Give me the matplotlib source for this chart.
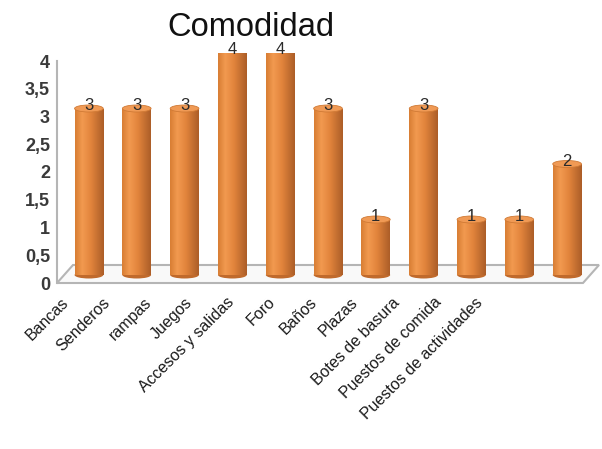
import matplotlib.pyplot as plt
import numpy as np
from matplotlib.patches import Ellipse, Polygon
from matplotlib.transforms import ScaledTranslation
from matplotlib.colors import LinearSegmentedColormap
from matplotlib.ticker import FixedLocator, FuncFormatter

# datos
categories = ['Bancas', 'Senderos', 'rampas', 'Juegos', 'Accesos y salidas', 'Foro',
              'Baños', 'Plazas', 'Botes de basura', 'Puestos de comida',
              'Puestos de actividades']
values = [3, 3, 3, 4, 4, 3, 1, 3, 1, 1, 2]
y_ticks = [0, 0.5, 1, 1.5, 2, 2.5, 3, 3.5, 4]
title = 'Comodidad'

plt.rcParams['font.family'] = ['Liberation Sans', 'DejaVu Sans']

fig = plt.figure(figsize=(6.02, 4.49), dpi=100)
ax = fig.add_axes([57 / 602, 166 / 449, 526 / 602, 222 / 449])
ax.set_xlim(-0.5, 10.5)
ax.set_ylim(0, 4)
for s in ['top', 'right', 'bottom']:
    ax.spines[s].set_visible(False)
ax.spines['left'].set_color('#b5b5b5')
ax.spines['left'].set_linewidth(1.5)

# profundidad "3D": barras a media profundidad, fondo del piso atras
mid = ax.transData + ScaledTranslation(0.08, 0.08, fig.dpi_scale_trans)
px_x = ax.bbox.width / 11
px_y = ax.bbox.height / 4
dx, dy = 16 / px_x, 18 / px_y

floor = Polygon([(-0.5, 0), (10.5, 0), (10.5 + dx, dy), (-0.5 + dx, dy)],
                closed=True, facecolor='#f9f9f9', edgecolor='#b5b5b5',
                linewidth=1.5, clip_on=False, zorder=1)
ax.add_patch(floor)

x = np.arange(len(categories))
width = 0.6
cyl = LinearSegmentedColormap.from_list(
    'cyl', [(0.0, '#d87e34'), (0.25, '#f29a50'), (0.55, '#e2843c'),
            (1.0, '#ac5e28')])
grad = np.linspace(0, 1, 64).reshape(1, -1)
ell_h = 7 / px_y

bars = ax.bar(x, values, width=width, color='#e2843c', zorder=3)
for b, xi, v in zip(bars, x, values):
    b.set_transform(mid)
    bottom = Ellipse((xi, 0), width, ell_h, transform=mid, facecolor='#c06a2c',
                     edgecolor='none', zorder=2)
    ax.add_patch(bottom)
    im = ax.imshow(grad, extent=(xi - width / 2, xi + width / 2, 0, v),
                   aspect='auto', cmap=cyl, transform=mid, zorder=4,
                   interpolation='bilinear')
    im.set_clip_path(b)
    top = Ellipse((xi, v), width, ell_h, transform=mid, facecolor='#f09a55',
                  edgecolor='#d07a35', linewidth=0.6, zorder=5)
    ax.add_patch(top)
    ax.text(xi, v, str(v), transform=mid + ScaledTranslation(0, 0.03, fig.dpi_scale_trans),
            ha='center', va='center', fontsize=12, color='#2a2a2a', zorder=6)

ax.set_xlim(-0.5, 10.5)
ax.set_ylim(0, 4)
ax.set_xticks([])
ax.yaxis.set_major_locator(FixedLocator(y_ticks))
ax.yaxis.set_major_formatter(FuncFormatter(lambda v, p: ('%g' % v).replace('.', ',')))
ax.tick_params(axis='y', length=0, pad=5, labelsize=13, labelcolor='#3a3a3a')
for t in ax.get_yticklabels():
    t.set_fontweight('bold')

# etiquetas de categoria (perspectiva: mas juntas que las barras)
sp = 41.4
axl = fig.add_axes([(66 - 0.5 * sp) / 602, (449 - 300) / 449, 11 * sp / 602, 0.001])
axl.set_xlim(-0.5, 10.5)
axl.axis('off')
for xi, c in zip(x, categories):
    axl.text(xi, 0, c, rotation=45, ha='right', va='center', rotation_mode='anchor',
             fontsize=11.5, color='#1a1a1a')

fig.text(251 / 602, 1 - 28 / 449, title, ha='center', va='center', fontsize=23.5,
         color='#111111')

fig.savefig('out.png', dpi=100, facecolor='white')
